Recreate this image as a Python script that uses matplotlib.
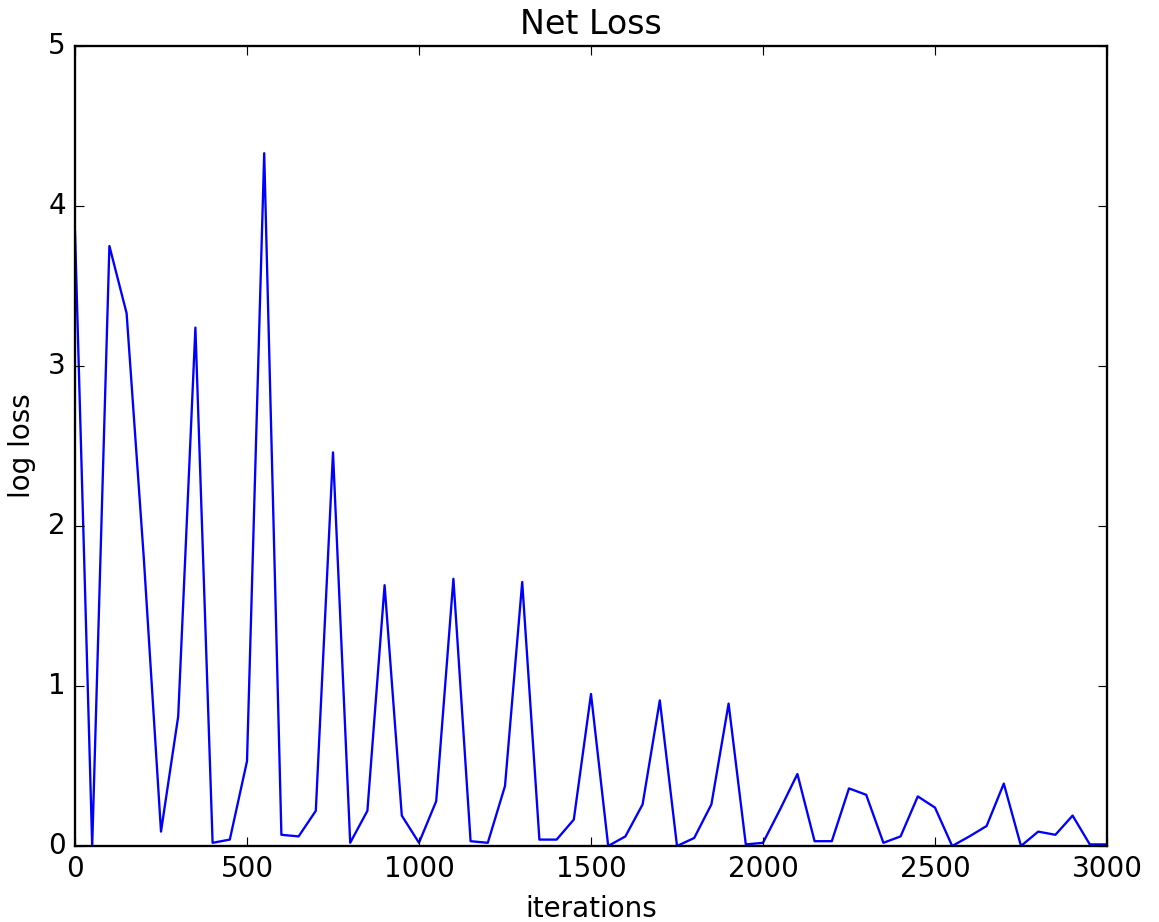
import matplotlib

matplotlib.use("Agg")
import matplotlib.pyplot as plt
import numpy as np

# loss sampled every 50 iterations
iterations = np.arange(0, 3001, 50)
log_loss = [
    3.84, 0.00, 3.75, 3.33, 1.80, 0.09, 0.81, 3.24, 0.02, 0.04,
    0.53, 4.33, 0.07, 0.06, 0.22, 2.46, 0.02, 0.22, 1.63, 0.19,
    0.02, 0.28, 1.67, 0.03, 0.02, 0.375, 1.65, 0.04, 0.04, 0.165,
    0.95, 0.00, 0.06, 0.26, 0.91, 0.00, 0.05, 0.26, 0.89, 0.01,
    0.02, 0.23, 0.45, 0.03, 0.03, 0.36, 0.32, 0.02, 0.06, 0.31,
    0.24, 0.00, 0.06, 0.125, 0.39, 0.00, 0.09, 0.07, 0.19, 0.01,
    0.01,
]

plt.style.use("classic")
DPI = 166.5
fig = plt.figure(figsize=(1159 / DPI, 922 / DPI), dpi=DPI, facecolor="white")
ax = fig.add_axes([75 / 1159, 76 / 922, 1032 / 1159, 800 / 922])

ax.plot(iterations, log_loss, color="b")
ax.set_xlim(0, 3000)
ax.set_ylim(0, 5)
ax.set_title("Net Loss")
ax.set_xlabel("iterations")
ax.set_ylabel("log loss")

fig.savefig("out.png", dpi=DPI, facecolor="white")
